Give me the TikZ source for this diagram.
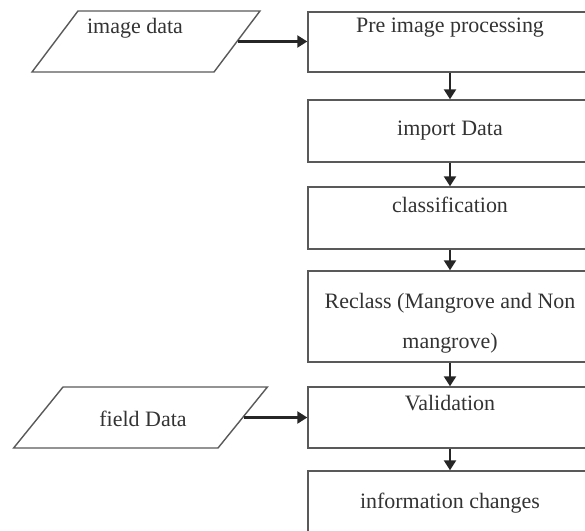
\documentclass[tikz,border=0pt]{standalone}
\usepackage{fontspec}
\setmainfont{Liberation Serif}
\usepackage{tikz}
\usetikzlibrary{positioning, arrows.meta, shapes.geometric}

\begin{document}
\begin{tikzpicture}[
  procbox/.style={draw=black!65, line width=0.8pt, minimum width=5.68cm, inner sep=0pt},
  databox/.style={draw=black!65, line width=0.8pt, trapezium, inner ysep=0.61cm},
  boxtext/.style={text=black!80, font=\fontsize{12.5}{15}\selectfont},
  flowarrow/.style={draw=black!85, line width=1.3pt, -{Triangle[length=0.2cm,width=0.24cm]}}
]
\useasboundingbox (0,0) rectangle (11.7,-10.6);

% input data
\node[databox, trapezium left angle=53, trapezium right angle=127, inner xsep=1.36cm] (imgdata) at (2.92,-0.83) {};
\node[boxtext] (imgtext) at (2.7,-0.56) {image data};
\node[databox, trapezium left angle=51, trapezium right angle=129, inner xsep=1.55cm] (fielddata) at (2.81,-8.35) {};
\node[boxtext] (fieldtext) at (2.86,-8.38) {field Data};

% process boxes
\node[procbox, minimum height=1.2cm] (pre) at (9,-0.84) {};
\node[procbox, minimum height=1.24cm] (import) at (9,-2.62) {};
\node[procbox, minimum height=1.24cm] (classif) at (9,-4.36) {};
\node[procbox, minimum height=1.82cm] (reclass) at (9,-6.33) {};
\node[procbox, minimum height=1.22cm] (valid) at (9,-8.35) {};
\node[procbox, minimum height=1.24cm] (info) at (9,-10.04) {};

% box texts
\node[boxtext] (pretext) at (9,-0.56) {Pre image processing};
\node[boxtext] (importtext) at (9,-2.62) {import Data};
\node[boxtext] (classiftext) at (9,-4.1) {classification};
\node[boxtext, align=center, font=\fontsize{12.5}{22.7}\selectfont] (reclasstext) at (9,-6.46) {Reclass (Mangrove and Non\\ mangrove)};
\node[boxtext] (validtext) at (9,-8.06) {Validation};
\node[boxtext] (infotext) at (9,-10.06) {information changes};

% arrows down the chain
\foreach \a/\b in {pre/import, import/classif, classif/reclass, reclass/valid, valid/info}
\draw[flowarrow] (\a) -- (\b);

% arrows from the data
\draw[flowarrow] (imgdata.east) -- (imgdata.east -| pre.west);
\draw[flowarrow] (fielddata.east) -- (fielddata.east -| valid.west);
\end{tikzpicture}
\end{document}
